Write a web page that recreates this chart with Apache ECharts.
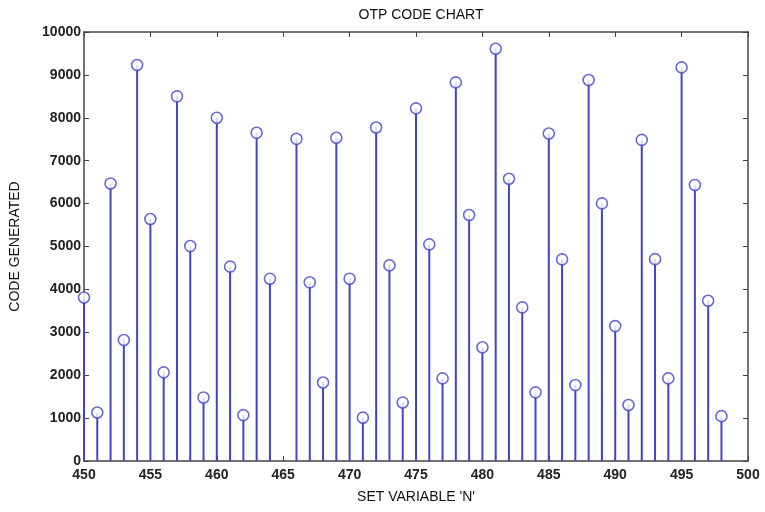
<!DOCTYPE html>
<html><head><meta charset="utf-8">
<script src="https://cdn.jsdelivr.net/npm/echarts@6/dist/echarts.min.js"></script>
<style>html,body{margin:0;padding:0;background:#fff}#c{width:765px;height:512px}</style>
</head><body><div id="c"></div>
<script>
var nValues = [450,451,452,453,454,455,456,457,458,459,460,461,462,463,464,466,467,468,469,470,471,472,473,474,475,476,477,478,479,480,481,482,483,484,485,486,487,488,489,490,491,492,493,494,495,496,497,498];
var codes = [3810,1130,6470,2820,9230,5640,2065,8500,5010,1480,8000,4530,1070,7650,4250,7510,4165,1830,7535,4250,1010,7775,4560,1365,8220,5050,1925,8825,5735,2650,9610,6580,3580,1600,7635,4700,1770,8880,6005,3145,1305,7485,4705,1925,9175,6435,3735,1045];
var xTicks = {min:450, max:500, interval:5};
var yTicks = {min:0, max:10000, interval:1000};

var pts = nValues.map(function(n,i){return [n, codes[i]];});
var blue = '#4343c8';
var axisCol = '#444';
var chart = echarts.init(document.getElementById('c'));
var lblFont = {fontFamily:'Liberation Sans, Arial, sans-serif', fontSize:14, fontWeight:'bold', color:'#222',
  formatter:function(v){return String(v);}};
chart.setOption({
  animation:false,
  backgroundColor:'#fff',
  title:{text:'OTP CODE CHART', left:416, top:3, textAlign:'center',
    textStyle:{fontFamily:'Liberation Sans, Arial, sans-serif', fontSize:14, fontWeight:'normal', color:'#111'}},
  grid:{left:84, right:17, top:32, bottom:51, containLabel:false},
  xAxis:[{type:'value', min:xTicks.min, max:xTicks.max, interval:xTicks.interval, position:'bottom',
     name:"SET VARIABLE 'N'", nameLocation:'middle', nameGap:29,
     nameTextStyle:{fontFamily:'Liberation Sans, Arial, sans-serif', fontSize:14, color:'#111'},
     axisLine:{show:true, onZero:false, lineStyle:{color:axisCol, width:1.5}},
     axisTick:{show:true, inside:true, length:5, lineStyle:{color:axisCol}},
     axisLabel:Object.assign({margin:7}, lblFont), splitLine:{show:false}},
    {type:'value', min:xTicks.min, max:xTicks.max, interval:xTicks.interval, position:'top',
     axisLine:{show:true, onZero:false, lineStyle:{color:axisCol, width:1.5}},
     axisTick:{show:true, inside:true, length:5, lineStyle:{color:axisCol}},
     axisLabel:{show:false}, splitLine:{show:false}}],
  yAxis:[{type:'value', min:yTicks.min, max:yTicks.max, interval:yTicks.interval, position:'left',
     name:'CODE GENERATED', nameLocation:'middle', nameGap:62, nameRotate:90,
     nameTextStyle:{fontFamily:'Liberation Sans, Arial, sans-serif', fontSize:14, color:'#111'},
     axisLine:{show:true, onZero:false, lineStyle:{color:axisCol, width:1.5}},
     axisTick:{show:true, inside:true, length:5, lineStyle:{color:axisCol}},
     axisLabel:Object.assign({margin:3}, lblFont), splitLine:{show:false}},
    {type:'value', min:yTicks.min, max:yTicks.max, interval:yTicks.interval, position:'right',
     axisLine:{show:true, onZero:false, lineStyle:{color:axisCol, width:1.5}},
     axisTick:{show:true, inside:true, length:5, lineStyle:{color:axisCol}},
     axisLabel:{show:false}, splitLine:{show:false}}],
  series:[
    {type:'bar', data:pts, barWidth:2, itemStyle:{color:blue}, silent:true, z:2},
    {type:'scatter', data:pts, symbol:'circle', symbolSize:11,
     itemStyle:{color:'#fff', borderColor:blue, borderWidth:1.6}, z:3}
  ]
});
</script></body></html>
